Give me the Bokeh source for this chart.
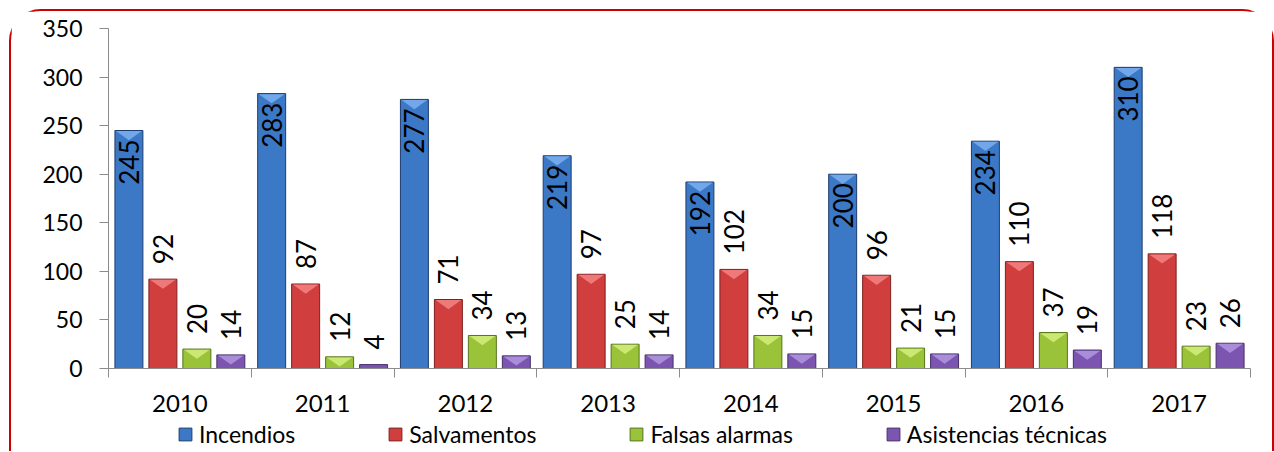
import math
from bokeh.plotting import figure
from bokeh.layouts import column
from bokeh.models import (ColumnDataSource, Range1d, FixedTicker, Legend, LegendItem)
from bokeh.transform import dodge
from bokeh.core.properties import value
from bokeh.embed import file_html
from bokeh.resources import INLINE

years = ["2010", "2011", "2012", "2013", "2014", "2015", "2016", "2017"]
incendios = [245, 283, 277, 219, 192, 200, 234, 310]
salvamentos = [92, 87, 71, 97, 102, 96, 110, 118]
falsas = [20, 12, 34, 25, 34, 21, 37, 23]
asistencias = [14, 4, 13, 14, 15, 15, 19, 26]
series_names = ["Incendios", "Salvamentos", "Falsas alarmas", "Asistencias técnicas"]
y_ticks = [0, 50, 100, 150, 200, 250, 300, 350]

FONT = "Lato"
fills = ["#3b78c6", "#d03e3e", "#9bc33a", "#7b55b0"]
lines = ["#1e3d6e", "#7f1f1f", "#55741a", "#45306a"]
bevels = ["#7cb0f0", "#f48484", "#d4ef7e", "#b398df"]
offsets = [-0.357, -0.119, 0.119, 0.357]
BAR_W = 0.196
BEVEL_H = 10

xc = [i + 0.5 for i in range(len(years))]
src = ColumnDataSource(dict(
    xc=xc, years=years,
    s0=incendios, s1=salvamentos, s2=falsas, s3=asistencias,
    t0=[str(v) for v in incendios], t1=[str(v) for v in salvamentos],
    t2=[str(v) for v in falsas], t3=[str(v) for v in asistencias],
))

p = figure(width=1261, height=409, output_backend="svg", toolbar_location=None,
           x_range=Range1d(0, len(years)), y_range=Range1d(0, 350),
           min_border_left=97, min_border_right=22, min_border_top=17,
           min_border_bottom=52)
p.outline_line_color = None
p.xgrid.visible = False
p.ygrid.visible = False
p.background_fill_color = "white"

# y axis
p.yaxis.ticker = FixedTicker(ticks=y_ticks)
p.yaxis.axis_line_color = "#8c8c8c"
p.yaxis.major_tick_line_color = "#8c8c8c"
p.yaxis.major_tick_out = 9
p.yaxis.major_tick_in = 0
p.yaxis.minor_tick_line_color = None
p.yaxis.major_label_standoff = 17
p.yaxis.major_label_text_font = FONT
p.yaxis.major_label_text_font_size = "23px"
p.yaxis.major_label_text_color = "black"

# x axis: labels at category centres, tick marks at boundaries
p.xaxis.ticker = FixedTicker(ticks=xc, minor_ticks=list(range(len(years) + 1)))
p.xaxis.major_label_overrides = {x: y for x, y in zip(xc, years)}
p.xaxis.axis_line_color = "#8c8c8c"
p.xaxis.major_tick_line_color = None
p.xaxis.major_tick_out = 0
p.xaxis.major_tick_in = 0
p.xaxis.minor_tick_line_color = "#8c8c8c"
p.xaxis.minor_tick_out = 9
p.xaxis.minor_tick_in = 0
p.xaxis.major_label_standoff = 17
p.xaxis.major_label_text_font = FONT
p.xaxis.major_label_text_font_size = "24px"
p.xaxis.major_label_text_color = "black"

for k in range(4):
    col = f"s{k}"
    p.vbar(x=dodge("xc", offsets[k]), top=col, bottom=0, width=BAR_W, source=src,
           fill_color=fills[k], line_color=lines[k], line_width=1)
    # top bevel highlight
    vals = [incendios, salvamentos, falsas, asistencias][k]
    xs = [[c + offsets[k] - BAR_W / 2 + 0.008, c + offsets[k] + BAR_W / 2 - 0.008, c + offsets[k]] for c in xc]
    ys = [[v - 0.6, v - 0.6, v - BEVEL_H] if v > BEVEL_H else [v, v, v] for v in vals]
    p.patches(xs, ys, fill_color=bevels[k], line_color=None, fill_alpha=0.85)

# data labels
p.text(x=dodge("xc", offsets[0]), y="s0", text="t0", source=src, angle=math.pi / 2,
       text_align="right", text_baseline="middle", y_offset=9,
       text_font=value(FONT), text_font_size="26px", text_color="black")
for k in range(1, 4):
    p.text(x=dodge("xc", offsets[k]), y=f"s{k}", text=f"t{k}", source=src, angle=math.pi / 2,
           text_align="left", text_baseline="middle", y_offset=-15,
           text_font=value(FONT), text_font_size="26px", text_color="black")

# legend strip (separate figure below the chart); its bar renderers share the
# data but lie far outside this strip's y range, so only the legend shows
lf = figure(width=1261, height=31, output_backend="svg", toolbar_location=None,
            x_range=Range1d(0, len(years)), y_range=Range1d(1000, 1001),
            x_axis_location=None, y_axis_location=None,
            min_border_left=0, min_border_right=0, min_border_top=0, min_border_bottom=0)
lf.outline_line_color = None
lf.xgrid.visible = False
lf.ygrid.visible = False
leg_renderers = []
for k in range(4):
    leg_renderers.append(lf.vbar(x=dodge("xc", offsets[k]), top=f"s{k}", bottom=0, width=BAR_W,
                                 source=src, fill_color=fills[k], line_color=lines[k]))
legend = Legend(items=[LegendItem(label=n, renderers=[r]) for n, r in zip(series_names, leg_renderers)],
                orientation="horizontal", location=(69, 3),
                glyph_width=16, glyph_height=16, label_standoff=6, spacing=92,
                padding=0, margin=0, border_line_color=None, background_fill_alpha=0,
                label_text_font=FONT, label_text_font_size="23px", label_text_color="black")
lf.add_layout(legend)

layout = column(p, lf, spacing=0)
layout.margin = (9, 0, 0, 9)
layout.styles = {
    "border-top": "2px solid #cc0000",
    "border-left": "2px solid #cc0000",
    "border-right": "2px solid #cc0000",
    "border-top-left-radius": "32px",
    "border-top-right-radius": "32px",
}

open("out.html", "w").write(file_html(layout, INLINE))
